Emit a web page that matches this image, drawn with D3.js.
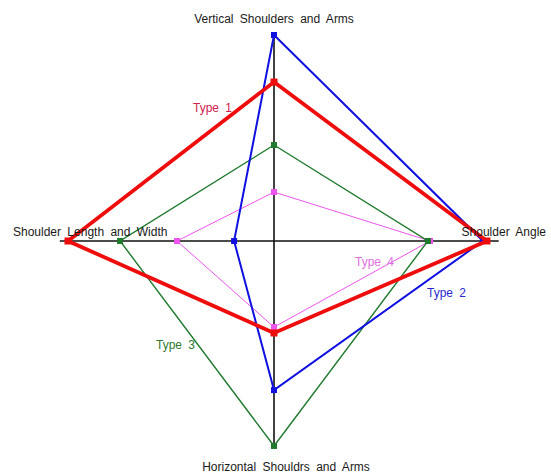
<!DOCTYPE html>
<html><head><meta charset="utf-8">
<script src="https://cdn.jsdelivr.net/npm/d3@7"></script>
<style>
html,body{margin:0;padding:0;background:#fff;}
svg{display:block;}
text{font-family:"Liberation Sans",Arial,sans-serif;font-size:12px;word-spacing:3px;}
</style></head>
<body>
<script>
// Axes in clockwise order starting at the top
const axes = ["Vertical Shoulders and Arms", "Shoulder Angle", "Horizontal Shouldrs and Arms", "Shoulder Length and Width"];
const axisExtent = [9.9, 10.7, 9.8, 10.2];
const seriesNames = ["Type 1", "Type 2", "Type 3", "Type 4"];
const type1 = [7.57, 10.14, 4.38, 9.81];
const type2 = [9.81, 9.95, 7.10, 1.90];
const type3 = [4.57, 7.33, 9.76, 7.33];
const type4 = [2.33, 7.43, 4.10, 4.62];
const seriesValues = [type1, type2, type3, type4];
const lineColors = ["#ee0c0c", "#1010e0", "#1f7a2e", "#ee55ee"];
const labelColors = ["#d0204e", "#2a2ad0", "#2f7a2f", "#e070e0"];
const lineWidths = [3.8, 2, 1.4, 1];

const W = 551, H = 474, cx = 274, cy = 241;
const r = d3.scaleLinear().domain([0, 10]).range([0, 21 * 10]);
const angle = i => i * Math.PI / 2; // 0 = up, clockwise
const pt = (i, v) => [cx + Math.sin(angle(i)) * r(v), cy - Math.cos(angle(i)) * r(v)];

const svg = d3.select("body").append("svg").attr("width", W).attr("height", H);

// axes
axes.forEach((a, i) => {
  const [x, y] = pt(i, axisExtent[i]);
  svg.append("line").attr("x1", cx).attr("y1", cy).attr("x2", x).attr("y2", y)
    .attr("stroke", "#111").attr("stroke-width", 1.6);
});

// series
const line = d3.line().curve(d3.curveLinearClosed);
[3, 2, 1, 0].forEach(s => {
  const pts = seriesValues[s].map((v, i) => pt(i, v));
  svg.append("path").attr("d", line(pts)).attr("fill", "none")
    .attr("stroke", lineColors[s]).attr("stroke-width", lineWidths[s]).attr("stroke-linejoin", "miter");
  const ms = s === 0 ? 7 : 6;
  svg.selectAll(null).data(pts).enter().append("rect")
    .attr("x", d => d[0] - ms / 2).attr("y", d => d[1] - ms / 2)
    .attr("width", ms).attr("height", ms).attr("fill", lineColors[s]);
});

// axis labels
const axisLabelPos = [[274, 23, "middle"], [546, 236, "end"], [286, 471, "middle"], [13, 236, "start"]];
axes.forEach((a, i) => {
  svg.append("text").attr("x", axisLabelPos[i][0]).attr("y", axisLabelPos[i][1])
    .attr("text-anchor", axisLabelPos[i][2]).attr("fill", "#1a1a1a").text(a);
});

// series labels
const seriesLabelPos = [[193, 112], [427, 297], [156, 349], [355, 266]];
seriesNames.forEach((n, s) => {
  svg.append("text").attr("x", seriesLabelPos[s][0]).attr("y", seriesLabelPos[s][1])
    .attr("fill", labelColors[s]).text(n);
});
</script>
</body></html>
